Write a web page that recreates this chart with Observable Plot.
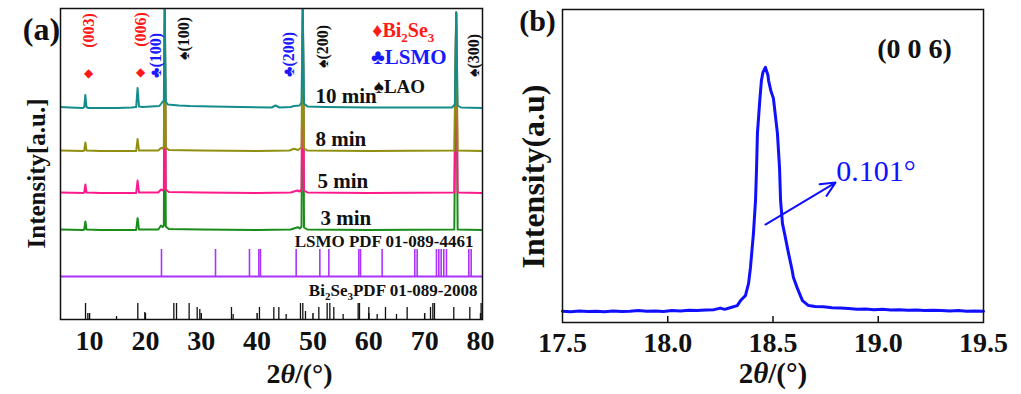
<!DOCTYPE html>
<html>
<head>
<meta charset="utf-8">
<script src="https://cdn.jsdelivr.net/npm/d3@7"></script>
<script src="https://cdn.jsdelivr.net/npm/@observablehq/plot@0.6"></script>
<style>
  html, body { margin: 0; padding: 0; background: #fff; }
  #fig { position: relative; width: 1021px; height: 394px; overflow: hidden; }
  #fig > svg { position: absolute; top: 0; }
</style>
</head>
<body>
<div id="fig"></div>
<script>
// ---------- (a) XRD scans: [2θ (deg), intensity (a.u.) above the trace's own baseline] ----------
const scan10min = [
  [4.8,1.5],[6.5,1],[8.8,0.5],[9.05,1.5],[9.25,13.5],[9.45,1.5],[9.8,0.5],[12,0.5],[15,0.5],[17.5,1],
  [18.35,1.5],[18.6,20.5],[18.85,2],[19.5,1.5],[21,2],[22.5,2.5],[22.85,5],[23.05,6.5],[23.3,8],
  [23.47,100],[23.65,7],[24.0,4],[26,3],[28,2.5],[32,2],[37,1.5],[42.6,1],[43.29,3],[44,1],[46,1.5],
  [46.6,2.5],[47.6,3],[47.95,6],[48.18,100],[48.4,5],[49,2],[52,1.5],[60,1],[68,1],[74.9,1],[75.4,4],
  [75.64,96],[75.9,3],[76.5,1],[80.35,0.5]
];
const scan8min = [
  [4.8,1],[8.9,0.5],[9.05,1],[9.25,9],[9.45,1],[12,0.5],[18.35,0.5],[18.6,12.5],[18.85,1],[22.3,1],
  [22.8,3.5],[23.1,3],[23.3,5],[23.47,143],[23.65,4],[24.2,1.5],[30,1],[40,0.5],[45.8,1],[46.6,2.7],
  [47.3,1.5],[47.95,4],[48.18,143],[48.4,3],[49,1],[60,0.5],[75.3,1],[75.64,139],[75.9,1],[80.35,0.5]
];
const scan5min = [
  [4.8,1],[8.9,0.5],[9.05,1],[9.25,9],[9.45,1],[12,0.5],[18.35,0.5],[18.6,13],[18.85,1],[22.3,1],
  [22.8,4],[23.1,3],[23.3,5],[23.47,185],[23.65,4],[24.2,1.5],[30,1],[40,0.5],[46,1],[47.2,3],
  [47.6,2],[47.95,4],[48.18,185],[48.4,3],[49,1],[60,0.5],[75.3,1],[75.64,181],[75.9,1],[80.35,0.5]
];
const scan3min = [
  [4.8,1],[8.9,0.5],[9.05,1],[9.25,9],[9.45,1],[12,0.5],[18.35,0.5],[18.6,12.3],[18.85,1],[22.3,1],
  [22.8,5],[23.1,3.5],[23.3,5],[23.47,222],[23.65,4],[24.2,1.5],[30,1],[40,0.5],[46,1],[47.3,3.3],
  [47.65,2],[47.95,4],[48.18,222],[48.4,3],[49,1],[60,0.5],[75.3,1],[75.64,218],[75.9,1],[80.35,0.5]
];
const traceNames  = ["3 min", "5 min", "8 min", "10 min"];
const traceScans  = [scan3min, scan5min, scan8min, scan10min];
const traceShift  = [89, 126, 168, 211];          // vertical offset of each trace (a.u.)
const traceColors = ["#1a8c1a", "#ff1a8c", "#8f8f10", "#148c8c"];

// Reference patterns (stick positions in 2θ and relative heights)
const lsmoPdfName  = "LSMO PDF 01-089-4461";
const lsmoPdfTheta = [22.88,32.55,38.63,40.31,40.6,46.99,51.23,52.84,58.21,58.51,62.38,68.23,68.65,72.11,72.53,72.95,73.42,73.9,77.9,78.32];
const lsmoPdfI     = [27,27,27,27,27,27,27,27,27,27,27,27,27,27,27,27,27,27,27,27];
const lsmoPdfShift = 43;
const bi2se3PdfName  = "Bi_2Se_3PDF 01-089-2008";
const bi2se3PdfTheta = [9.28,9.69,14.83,18.64,19.9,25.09,25.57,27.83,29.27,29.74,35.41,35.71,40.42,42.99,43.89,45.2,47.76,48.18,48.66,51.05,52.54,53.02,53.73,55.4,58.09,58.33,60.0,61.49,62.98,64.95,66.86,71.04,71.46,71.75,75.21,78.08,80.1];
const bi2se3PdfI     = [16,6,3,16,7,16,16,16,12,10,12,5,12,12,12,5,16,16,8,12,16,16,12,5,16,16,12,5,12,5,12,12,16,16,12,12,16];

const ticksA = [10, 20, 30, 40, 50, 60, 70, 80];
const peakTags = ["(003)", "(006)", "\u2663(100)", "\u2660(100)", "\u2663(200)", "\u2660(200)", "\u2660(300)"];
const phaseNames = ["Bi_2Se_3", "LSMO", "LAO"];
const phaseSymbols = ["\u2666", "\u2663", "\u2660"];

// ---------- (b) (0 0 6) reflection ----------
const thetaB = [17.50,17.54,17.58,17.62,17.66,17.70,17.74,17.78,17.82,17.86,17.90,17.94,17.98,18.02,18.06,18.10,18.14,18.18,18.22,
  18.25,18.27,18.30,18.33,
  18.346,18.36,18.369,18.384,18.393,18.407,18.417,18.422,18.426,18.438,18.445,18.452,18.464,
  18.476,18.479,18.49,18.502,18.521,18.531,18.536,18.545,18.555,18.574,18.59,18.597,18.616,18.63,18.64,18.669,
  18.70,18.74,18.78,18.82,18.86,18.90,18.94,18.98,19.02,19.06,19.10,19.14,19.18,19.22,19.26,19.30,19.34,19.38,19.42,19.46,19.50];
const intensityB = [36,34,37,35,36,34,37,35,36,38,36,37,35,38,37,39,38,40,41,
  46,42,48,54,
  70,80,86,125,176,284,390,495,604,716,773,799,815,
  790,773,740,716,604,495,390,316,284,220,170,144,109,86,70,54,
  51,50,47,46,45,42,43,41,42,40,41,39,40,38,39,38,37,38,36,37,36];
const ticksB = [17.5, 18.0, 18.5, 19.0, 19.5];
const reflectionLabel = "(0 0 6)";
const fwhmLabel = "0.101\u00b0";

// ---------- drawing ----------
const SERIF = "'Liberation Serif', 'Times New Roman', 'DejaVu Serif', serif";
const RED = "#ff1a1a", BLUE = "#1a1aff", INK = "#111", PURPLE = "#aa33ff", LINEBLUE = "#1010ff";
const xTitle = "2~\u03b8~/(\u00b0)";

const tagLayout = [
  {x: 9.81,  y: 289, c: RED},
  {x: 19.12, y: 290, c: RED},
  {x: 21.8,  y: 264, c: BLUE},
  {x: 26.82, y: 281, c: INK},
  {x: 45.62, y: 265, c: BLUE},
  {x: 51.7,  y: 273, c: INK},
  {x: 78.73, y: 264, c: INK}
];
const legendLayout = [
  {x: 60.6, y: 289, c: RED, size: 20},
  {x: 60.4, y: 262, c: BLUE, size: 21},
  {x: 60.9, y: 233, c: INK, size: 19}
];
const traceLabelX = [51.35, 50.8, 50.45, 50.45];

const plotA = Plot.plot({
  width: 510, height: 394,
  marginLeft: 60, marginRight: 28, marginTop: 8, marginBottom: 75,
  style: {fontFamily: SERIF, fontWeight: "bold", background: "transparent", overflow: "visible", color: INK},
  x: {domain: [4.8, 80.35]},
  y: {domain: [0, 311], axis: null},
  marks: [
    Plot.ruleY([lsmoPdfShift], {stroke: PURPLE, strokeWidth: 2}),
    Plot.ruleX(lsmoPdfTheta, {x: d => d, y1: lsmoPdfShift, y2: (d, i) => lsmoPdfShift + lsmoPdfI[i], stroke: PURPLE, strokeWidth: 1.6}),
    Plot.ruleX(bi2se3PdfTheta, {x: d => d, y1: 0, y2: (d, i) => bi2se3PdfI[i], stroke: INK, strokeWidth: 1.3}),
    ...traceScans.map((scan, k) => Plot.line(scan, {
      x: d => d[0], y: d => d[1] + traceShift[k], stroke: traceColors[k], strokeWidth: 2, clip: true
    })),
    Plot.ruleX(ticksA, {x: d => d, y1: 0, y2: 6, stroke: INK, strokeWidth: 1.5}),
    Plot.frame({stroke: INK, strokeWidth: 1.5}),
    Plot.axisX(ticksA, {tickSize: 0, tickPadding: 11, fontSize: 28, fontWeight: "bold", label: null}),
    // peak assignments
    Plot.text(peakTags, {x: (d, i) => tagLayout[i].x, y: (d, i) => tagLayout[i].y, fill: (d, i) => tagLayout[i].c,
      rotate: -90, fontSize: 16, fontWeight: "bold", textAnchor: "middle", lineAnchor: "middle"}),
    Plot.text(peakTags.slice(0, 2), {x: (d, i) => tagLayout[i].x, y: (d, i) => tagLayout[i].y - 43,
      text: () => "\u25c6", fill: RED, fontSize: 12, textAnchor: "middle", lineAnchor: "middle"}),
    // phase legend
    Plot.text(phaseNames, {x: (d, i) => legendLayout[i].x, y: (d, i) => legendLayout[i].y,
      text: (d, i) => phaseSymbols[i] + d, fill: (d, i) => legendLayout[i].c,
      fontSize: (d, i) => legendLayout[i].size, textAnchor: "start", lineAnchor: "middle"}),
    // trace names
    Plot.text(traceNames, {x: (d, i) => traceLabelX[i], y: (d, i) => traceShift[i] + 12,
      textAnchor: "start", fontSize: 21, lineAnchor: "middle", fill: INK}),
    Plot.text([lsmoPdfName], {x: 78.73, y: lsmoPdfShift + 35, textAnchor: "end", fontSize: 17, lineAnchor: "middle"}),
    Plot.text([bi2se3PdfName], {x: 79.45, y: 29, textAnchor: "end", fontSize: 17, lineAnchor: "middle"}),
    Plot.text(["Intensity[a.u.]"], {frameAnchor: "left", rotate: -90, dx: -24, dy: 9.5, fontSize: 25,
      textAnchor: "middle", lineAnchor: "middle"}),
    Plot.text([xTitle], {frameAnchor: "bottom", dx: 28, dy: 55, fontSize: 28, textAnchor: "middle", lineAnchor: "middle"}),
    Plot.text(["(a)"], {frameAnchor: "top-left", dx: -19, dy: 21, fontSize: 32, textAnchor: "middle", lineAnchor: "middle"})
  ]
});

const plotB = Plot.plot({
  width: 511, height: 394,
  marginLeft: 52, marginRight: 38, marginTop: 9, marginBottom: 72,
  style: {fontFamily: SERIF, fontWeight: "bold", background: "transparent", overflow: "visible", color: INK},
  x: {domain: [17.5, 19.5]},
  y: {domain: [0, 1000], axis: null},
  marks: [
    Plot.lineY(intensityB, {x: thetaB, stroke: LINEBLUE, strokeWidth: 3}),
    Plot.arrow([fwhmLabel], {x1: 18.464, y1: 313, x2: 18.797, y2: 447, stroke: LINEBLUE, strokeWidth: 2,
      headLength: 12, headAngle: 50}),
    Plot.text([fwhmLabel], {x: 18.8, y: 482, textAnchor: "start", lineAnchor: "middle",
      fill: LINEBLUE, fontSize: 30, fontWeight: "normal"}),
    Plot.text([reflectionLabel], {x: 19.172, y: 875, fontSize: 28, textAnchor: "middle", lineAnchor: "middle"}),
    Plot.ruleX(ticksB.slice(1, -1), {x: d => d, y1: 0, y2: 19, stroke: INK, strokeWidth: 1.5}),
    Plot.frame({stroke: INK, strokeWidth: 1.5}),
    Plot.axisX(ticksB, {tickSize: 0, tickPadding: 10, fontSize: 28, fontWeight: "bold",
      tickFormat: d3.format(".1f"), label: null}),
    Plot.text(["Intensity(a.u)"], {frameAnchor: "left", rotate: -90, dx: -29, dy: 10.5, fontSize: 32,
      textAnchor: "middle", lineAnchor: "middle"}),
    Plot.text([xTitle], {frameAnchor: "bottom", dy: 51, fontSize: 29, textAnchor: "middle", lineAnchor: "middle"}),
    Plot.text(["(b)"], {frameAnchor: "top-left", dx: -25, dy: 12, fontSize: 30, textAnchor: "middle", lineAnchor: "middle"})
  ]
});

// Turn the light markup in labels into tspans: _d → subscript digit, ~x~ → italic
function enrich(svg) {
  svg.querySelectorAll("text").forEach(el => {
    if (el.querySelector("tspan")) return;
    const s = el.textContent;
    if (!/_\d|~/.test(s)) return;
    const parts = s.split(/(_\d|~[^~]+~)/).filter(p => p !== "");
    el.textContent = "";
    let lowered = false;
    for (const p of parts) {
      const ts = document.createElementNS("http://www.w3.org/2000/svg", "tspan");
      if (p[0] === "_") {
        ts.textContent = p.slice(1);
        ts.setAttribute("font-size", "65%");
        ts.setAttribute("dy", "0.4em");
        lowered = true;
      } else {
        if (p[0] === "~") { ts.textContent = p.slice(1, -1); ts.setAttribute("font-style", "italic"); }
        else ts.textContent = p;
        if (lowered) { ts.setAttribute("dy", "-0.26em"); lowered = false; }
      }
      el.appendChild(ts);
    }
  });
}
enrich(plotA);
enrich(plotB);

plotA.style.left = "0px";
plotB.style.left = "510px";
const fig = document.getElementById("fig");
fig.appendChild(plotA);
fig.appendChild(plotB);
</script>
</body>
</html>
